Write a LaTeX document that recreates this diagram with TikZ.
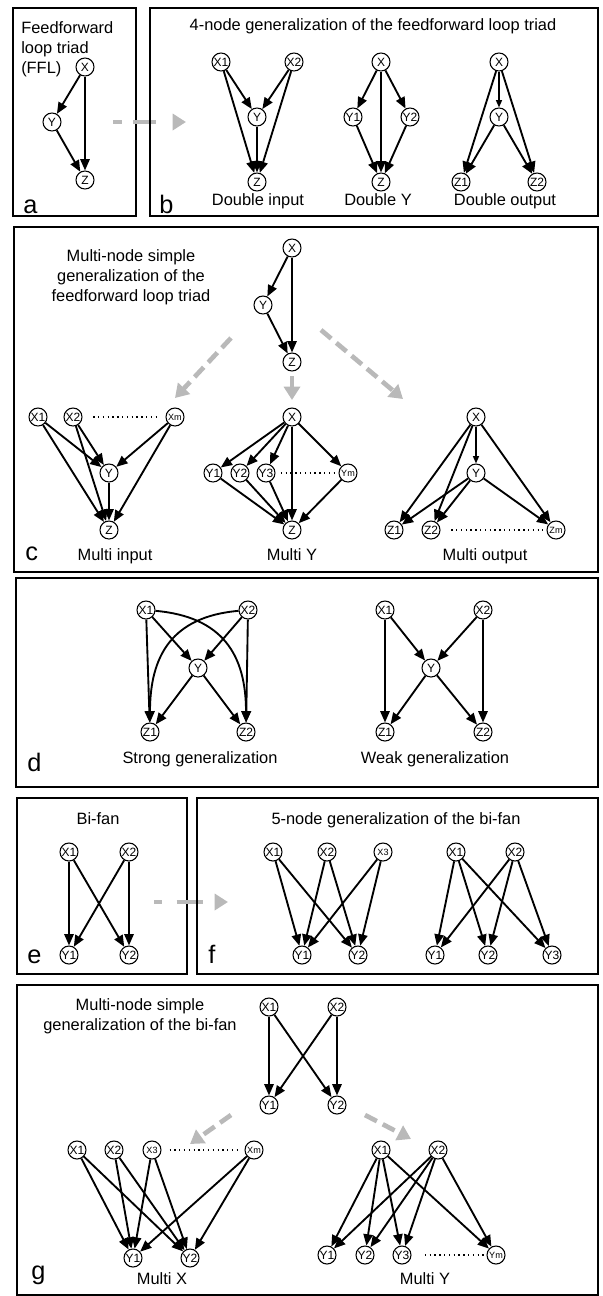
\documentclass[tikz,border=0pt]{standalone}
\usepackage{fontspec}
\setmainfont{Liberation Sans}
\usetikzlibrary{arrows.meta}

\begin{document}
\begin{tikzpicture}[
    x=0.75pt, y=-0.75pt,
    circ/.style={
        draw,
        circle,
        line width=0.8pt,
        fill=white,
        inner sep=0.2pt,
        minimum size=13.5pt,
        font=\fontsize{9}{9}\selectfont
    },
    circsm/.style={circ, font=\fontsize{6.8}{7}\selectfont},
    arrow/.style={
        -{Triangle[length=8.5pt, width=7pt]},
        line width=1.4pt
    },
    arrowsm/.style={
        -{Triangle[length=5.5pt, width=4.5pt]},
        line width=1pt
    },
    flow/.style={
        -{Triangle[length=10pt, width=12pt]},
        gray!55,
        line width=3.5pt,
        dash pattern=on 10pt off 5pt
    },
    dots/.style={dash pattern=on 1pt off 2.6pt, line width=1.1pt},
    panel/.style={draw, line width=1.1pt},
    lbl/.style={font=\fontsize{12.3}{15}\selectfont, anchor=base},
    ttl/.style={font=\fontsize{12.3}{15}\selectfont, align=center, anchor=north, inner sep=0pt},
    tag/.style={font=\fontsize{19}{19}\selectfont, anchor=base west, inner sep=0pt}
]
\useasboundingbox (0,0) rectangle (603,1296);

% Panel a
\draw [panel] (13,8) rectangle (136,216);
\node (atitle) [anchor=north west, align=left, inner sep=0pt, font=\fontsize{12.3}{15}\selectfont] at (21,21) {Feedforward\\loop triad\\(FFL)};
\node (ax) [circ] at (85,67) {X};
\node (ay) [circ] at (52,122) {Y};
\node (az) [circ] at (85,180) {Z};
\draw [arrow] (ax) -- (ay);
\draw [arrow] (ay) -- (az);
\draw [arrow] (ax) -- (az);
\node (atag) [tag] at (23,213) {a};

% a to b
\coordinate (abstart) at (113,122);
\coordinate (abend) at (186,122);
\draw [flow, dash pattern=on 7pt off 8pt on 17pt off 40pt] (abstart) -- (abend);

% Panel b
\draw [panel] (150,8) rectangle (598,216);
\node (btitle) [lbl] at (373,30) {4-node generalization of the feedforward loop triad};

% Double input
\node (bix1) [circ] at (221,62) {X1};
\node (bix2) [circ] at (294,62) {X2};
\node (biy) [circ] at (257,117) {Y};
\node (biz) [circ] at (257,182) {Z};
\draw [arrow] (bix1) edge (biy) edge (biz);
\draw [arrow] (bix2) edge (biy) edge (biz);
\draw [arrow] (biy) -- (biz);
\node (bilbl) [lbl] at (258,205) {Double input};

% Double Y
\node (byx) [circ] at (381,62) {X};
\node (byy1) [circ] at (353,117) {Y1};
\node (byy2) [circ] at (410,117) {Y2};
\node (byz) [circ] at (381,182) {Z};
\draw [arrow] (byx) edge (byy1) edge (byy2) edge (byz);
\draw [arrow] (byy1) -- (byz);
\draw [arrow] (byy2) -- (byz);
\node (bylbl) [lbl] at (378,205) {Double Y};

% Double output
\node (box) [circ] at (499,62) {X};
\node (boy) [circ] at (499,117) {Y};
\node (boz1) [circ] at (461,182) {Z1};
\node (boz2) [circ] at (537,182) {Z2};
\draw [arrowsm] (box) -- (boy);
\draw [arrow] (box) edge (boz1) edge (boz2);
\draw [arrow] (boy) edge (boz1) edge (boz2);
\node (bolbl) [lbl] at (505,205) {Double output};
\node (btag) [tag] at (159,213) {b};

% Panel c
\draw [panel] (14,227) rectangle (598,572);
\node (ctitle) [ttl] at (131,249) {Multi-node simple\\generalization of the\\feedforward loop triad};
\node (cx) [circ] at (292,248) {X};
\node (cy) [circ] at (263,305) {Y};
\node (cz) [circ] at (292,362) {Z};
\draw [arrow] (cx) -- (cy);
\draw [arrow] (cy) -- (cz);
\draw [arrow] (cx) -- (cz);

% Branching arrows
\coordinate (clstart) at (231,338);
\coordinate (clend) at (175,398);
\coordinate (cmstart) at (292,376);
\coordinate (cmend) at (292,400);
\coordinate (crstart) at (321,330);
\coordinate (crend) at (403,399);
\draw [flow] (clstart) -- (clend);
\draw [flow] (cmstart) -- (cmend);
\draw [flow] (crstart) -- (crend);

% Multi input
\node (cix1) [circ] at (38,417) {X1};
\node (cix2) [circ] at (73,417) {X2};
\node (cixm) [circsm] at (175,417) {Xm};
\node (ciy) [circ] at (109,473) {Y};
\node (ciz) [circ] at (109,530) {Z};
\draw [dots, shorten <=8pt, shorten >=6pt] (cix2) -- (cixm);
\draw [arrow] (cix1) edge (ciy) edge (ciz);
\draw [arrow] (cix2) edge (ciy) edge (ciz);
\draw [arrow] (cixm) edge (ciy) edge (ciz);
\draw [arrow] (ciy) -- (ciz);
\node (cilbl) [lbl] at (115,560) {Multi input};

% Multi Y
\node (cyx) [circ] at (292,417) {X};
\node (cyy1) [circ] at (213,473) {Y1};
\node (cyy2) [circ] at (240,473) {Y2};
\node (cyy3) [circ] at (266,473) {Y3};
\node (cyym) [circsm] at (348,473) {Ym};
\node (cyz) [circ] at (292,530) {Z};
\draw [dots, shorten <=4pt, shorten >=1pt] (cyy3) -- (cyym);
\draw [arrow] (cyx) edge (cyy1) edge (cyy2) edge (cyy3) edge (cyym) edge (cyz);
\draw [arrow] (cyy1) edge (cyz);
\draw [arrow] (cyy2) edge (cyz);
\draw [arrow] (cyy3) edge (cyz);
\draw [arrow] (cyym) edge (cyz);
\node (cylbl) [lbl] at (292,560) {Multi Y};

% Multi output
\node (cox) [circ] at (476,417) {X};
\node (coy) [circ] at (476,473) {Y};
\node (coz1) [circ] at (394,530) {Z1};
\node (coz2) [circ] at (431,530) {Z2};
\node (cozm) [circsm] at (556,530) {Zm};
\draw [dots, shorten <=8pt, shorten >=3pt] (coz2) -- (cozm);
\draw [arrowsm] (cox) -- (coy);
\draw [arrow] (cox) edge (coz1) edge (coz2) edge (cozm);
\draw [arrow] (coy) edge (coz1) edge (coz2) edge (cozm);
\node (colbl) [lbl] at (485,560) {Multi output};
\node (ctag) [tag] at (25,560) {c};

% Panel d
\draw [panel] (16,578) rectangle (598,787);

% Strong generalization
\node (dsx1) [circ] at (146,610) {X1};
\node (dsx2) [circ] at (248,610) {X2};
\node (dsy) [circ] at (198,668) {Y};
\node (dsz1) [circ] at (150,732) {Z1};
\node (dsz2) [circ] at (246,732) {Z2};
\draw [arrow] (dsx1) edge (dsy) edge (dsz1);
\draw [arrow] (dsx2) edge (dsy) edge (dsz2);
\draw [arrow] (dsy) edge (dsz1) edge (dsz2);
\draw [arrow] (dsx1) to[out=-5, in=90, looseness=1.2] (dsz2);
\draw [arrow] (dsx2) to[out=185, in=90, looseness=1.2] (dsz1);
\node (dslbl) [lbl] at (200,763) {Strong generalization};

% Weak generalization
\node (dwx1) [circ] at (385,610) {X1};
\node (dwx2) [circ] at (483,610) {X2};
\node (dwy) [circ] at (431,668) {Y};
\node (dwz1) [circ] at (385,732) {Z1};
\node (dwz2) [circ] at (483,732) {Z2};
\draw [arrow] (dwx1) edge (dwy) edge (dwz1);
\draw [arrow] (dwx2) edge (dwy) edge (dwz2);
\draw [arrow] (dwy) edge (dwz1) edge (dwz2);
\node (dwlbl) [lbl] at (435,763) {Weak generalization};
\node (dtag) [tag] at (27,771) {d};

% Panel e
\draw [panel] (17,798) rectangle (187,974);
\node (etitle) [lbl] at (98,824) {Bi-fan};
\node (ex1) [circ] at (69,852) {X1};
\node (ex2) [circ] at (129,852) {X2};
\node (ey1) [circ] at (69,955) {Y1};
\node (ey2) [circ] at (129,955) {Y2};
\draw [arrow] (ex1) edge (ey1) edge (ey2);
\draw [arrow] (ex2) edge (ey1) edge (ey2);
\node (etag) [tag] at (27,963) {e};

% e to f
\coordinate (efstart) at (154,902);
\coordinate (efend) at (228,902);
\draw [flow, dash pattern=on 6pt off 11pt on 20pt off 40pt] (efstart) -- (efend);

% Panel f
\draw [panel] (197,798) rectangle (598,974);
\node (ftitle) [lbl] at (396,824) {5-node generalization of the bi-fan};
\node (flx1) [circ] at (273,852) {X1};
\node (flx2) [circ] at (327,852) {X2};
\node (flx3) [circsm] at (383,852) {X3};
\node (fly1) [circ] at (302,955) {Y1};
\node (fly2) [circ] at (358,955) {Y2};
\draw [arrow] (flx1) edge (fly1) edge (fly2);
\draw [arrow] (flx2) edge (fly1) edge (fly2);
\draw [arrow] (flx3) edge (fly1) edge (fly2);
\node (frx1) [circ] at (456,852) {X1};
\node (frx2) [circ] at (515,852) {X2};
\node (fry1) [circ] at (435,955) {Y1};
\node (fry2) [circ] at (488,955) {Y2};
\node (fry3) [circ] at (552,955) {Y3};
\draw [arrow] (frx1) edge (fry1) edge (fry2) edge (fry3);
\draw [arrow] (frx2) edge (fry1) edge (fry2) edge (fry3);
\node (ftag) [tag] at (208,963) {f};

% Panel g
\draw [panel] (17,985) rectangle (598,1295);
\node (gtitle) [ttl] at (140,998) {Multi-node simple\\generalization of the bi-fan};
\node (gx1) [circ] at (269,1007) {X1};
\node (gx2) [circ] at (337,1007) {X2};
\node (gy1) [circ] at (269,1105) {Y1};
\node (gy2) [circ] at (337,1105) {Y2};
\draw [arrow] (gx1) edge (gy1) edge (gy2);
\draw [arrow] (gx2) edge (gy1) edge (gy2);

% Branching arrows
\coordinate (glstart) at (231,1115);
\coordinate (glend) at (190,1144);
\coordinate (grstart) at (365,1115);
\coordinate (grend) at (411,1139);
\draw [flow] (glstart) -- (glend);
\draw [flow] (grstart) -- (grend);

% Multi X
\node (gix1) [circ] at (77,1150) {X1};
\node (gix2) [circ] at (114,1150) {X2};
\node (gix3) [circsm] at (152,1150) {X3};
\node (gixm) [circsm] at (254,1150) {Xm};
\node (giy1) [circ] at (133,1258) {Y1};
\node (giy2) [circ] at (190,1258) {Y2};
\draw [dots, shorten <=6pt, shorten >=4pt] (gix3) -- (gixm);
\draw [arrow] (gix1) edge (giy1) edge (giy2);
\draw [arrow] (gix2) edge (giy1) edge (giy2);
\draw [arrow] (gix3) edge (giy1) edge (giy2);
\draw [arrow] (gixm) edge (giy1) edge (giy2);
\node (gilbl) [lbl] at (162,1284) {Multi X};

% Multi Y
\node (gox1) [circ] at (381,1150) {X1};
\node (gox2) [circ] at (438,1150) {X2};
\node (goy1) [circ] at (327,1255) {Y1};
\node (goy2) [circ] at (365,1255) {Y2};
\node (goy3) [circ] at (402,1255) {Y3};
\node (goym) [circsm] at (496,1255) {Ym};
\draw [dots, shorten <=10pt, shorten >=2pt] (goy3) -- (goym);
\draw [arrow] (gox1) edge (goy1) edge (goy2) edge (goy3) edge (goym);
\draw [arrow] (gox2) edge (goy1) edge (goy2) edge (goy3) edge (goym);
\node (golbl) [lbl] at (425,1284) {Multi Y};
\node (gtag) [tag] at (31,1279) {g};

\end{tikzpicture}
\end{document}
